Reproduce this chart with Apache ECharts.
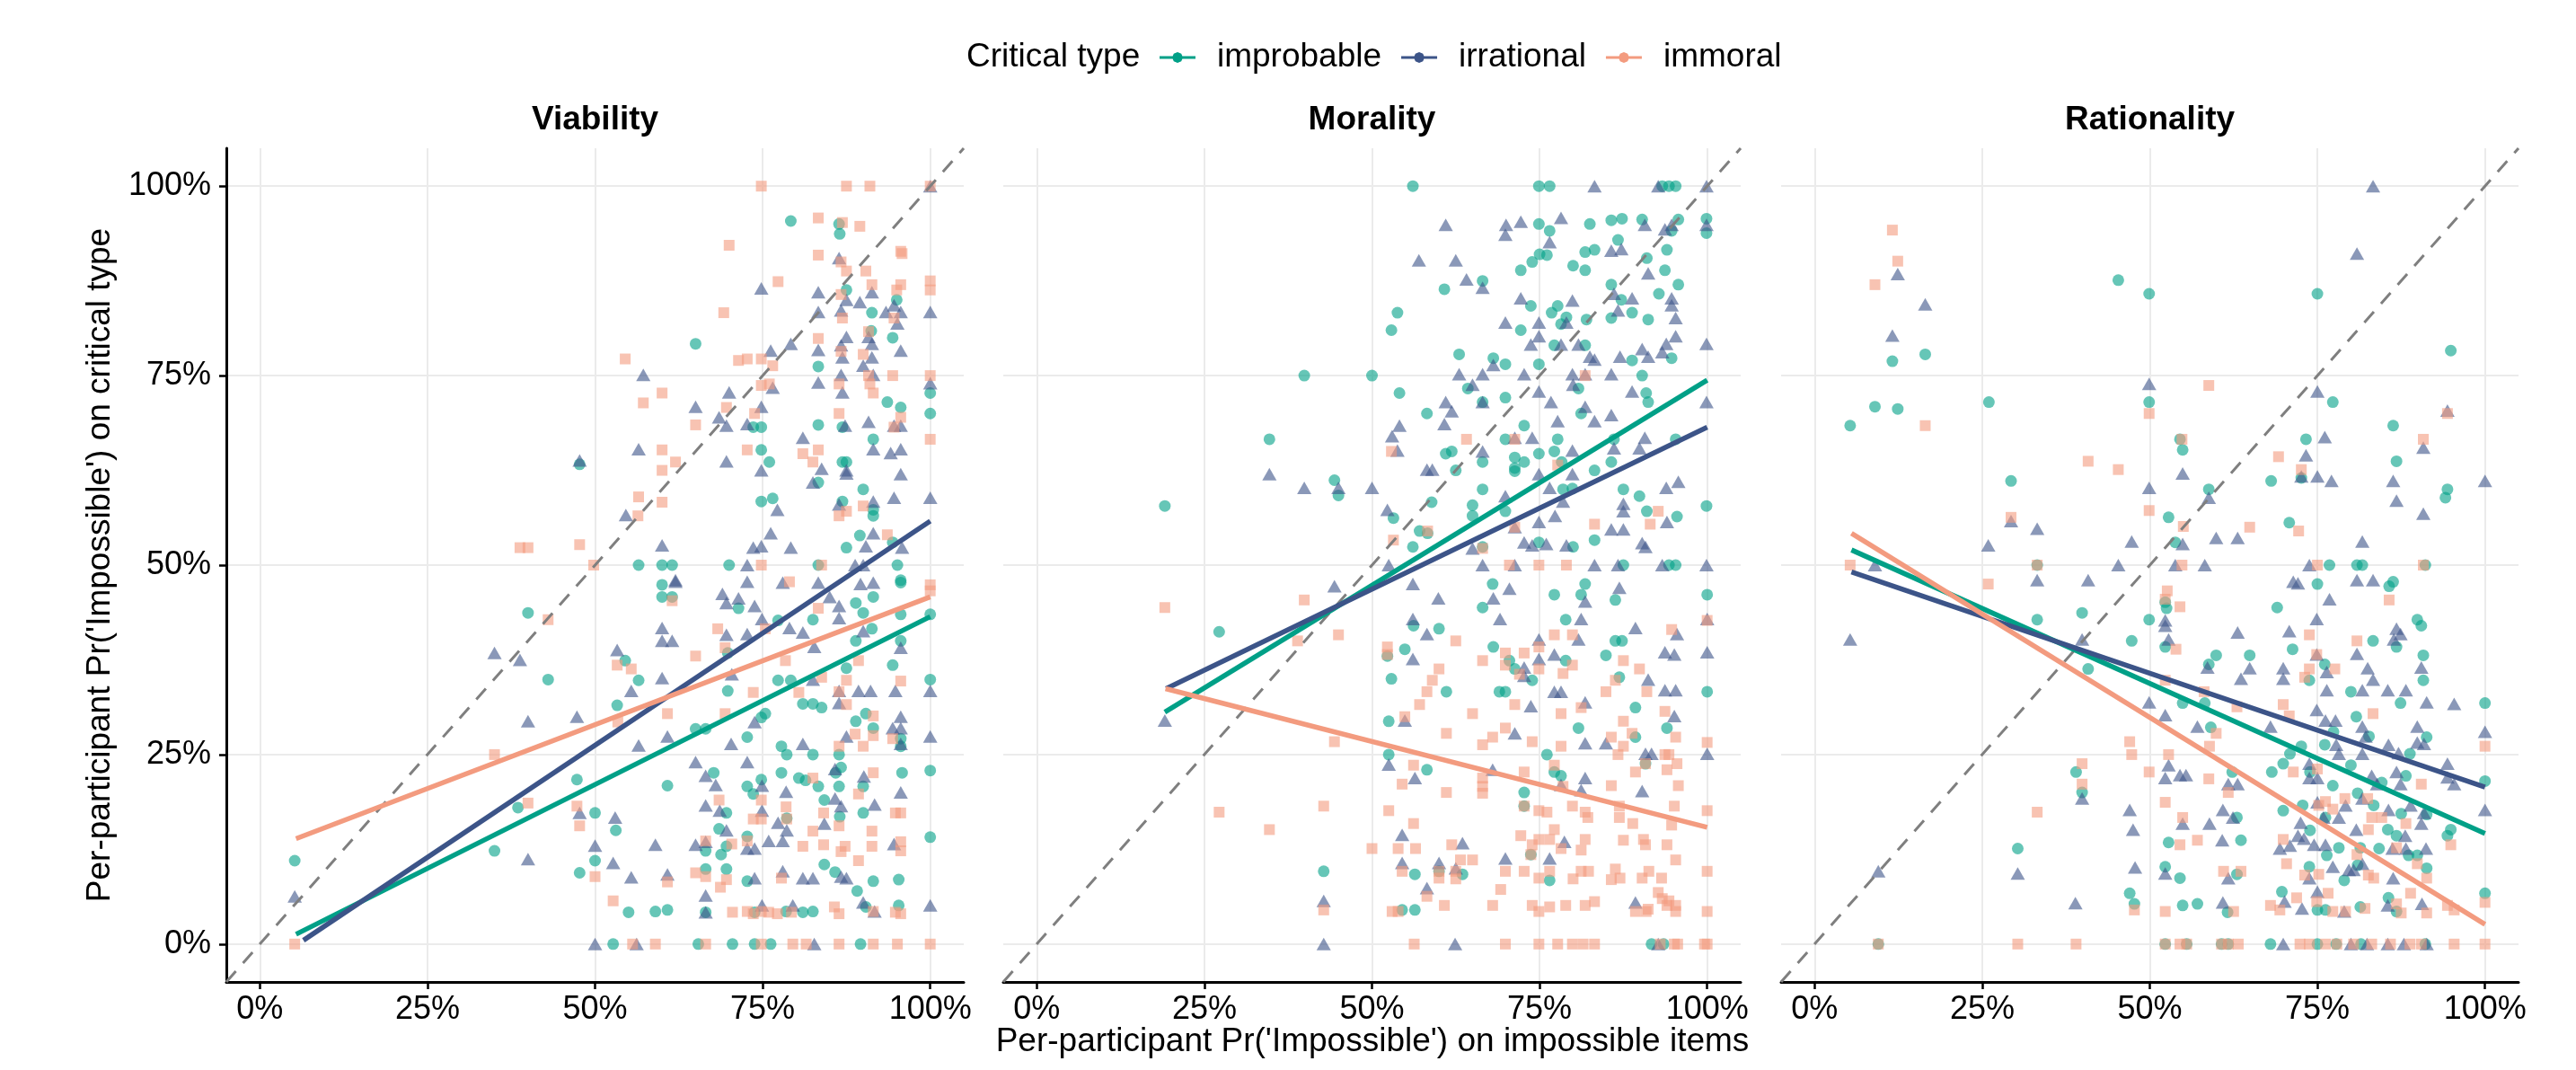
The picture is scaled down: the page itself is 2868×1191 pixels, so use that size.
<!DOCTYPE html>
<html>
<head>
<meta charset="utf-8">
<script src="https://cdn.jsdelivr.net/npm/echarts@6/dist/echarts.min.js"></script>
<style>
  html, body { margin: 0; padding: 0; background: #fff; }
  #chart { width: 2868px; height: 1191px; }
</style>
</head>
<body>
<div id="chart"></div>
<script>
// facets and critical types
var panels = ['Viability', 'Morality', 'Rationality'];
var types = ['improbable', 'irrational', 'immoral'];
var tickValues = [0, 25, 50, 75, 100];

// points, [x %, y %]
var vImprobable = [[79.2,95.4],[86.4,95],[86.5,93.7],[87.5,86.3],[95,85],[91.3,83.3],[91.2,80.9],[94.4,80],[65,79.2],[83.3,76.2],[100,72.7],[93.6,71.5],[95.6,70.8],[100,70],[83.3,68.5],[86.9,68.2],[73.6,68.2],[74.8,68.2],[91.5,66.6],[74.8,65.2],[76,63.6],[86.9,63.6],[87.5,63.6],[83.3,60.9],[90,60],[74.8,58.4],[76.5,58.8],[86.9,58.4],[91.5,57.3],[91.5,56.5],[89.5,53.9],[87.5,52.3],[95.1,50],[47.7,63.3],[56.5,50],[60,50],[61.5,50],[70,50],[83.3,50],[94.4,53],[95.6,48],
  [60,47.4],[95.6,47.7],[60,45.8],[61.5,45.8],[71.4,44.3],[88.9,45],[91.5,45.8],[40,43.7],[95.6,43.5],[100,43.5],[82.5,42.8],[90,43.7],[91.3,41.6],[77.3,42.7],[88.9,40],[95.6,40],[54.5,37.4],[43,34.9],[56.5,34.8],[69.8,38.4],[94.4,36.8],[87.5,36.4],[77.3,34.8],[79.2,34.8],[100,34.9],[69.8,33.4],[53.3,31.5],[81,31.7],[82.5,31.7],[83.8,31.2],[75.4,30.4],[74.8,29.9],[88.9,29.4],[91.5,28.5],[65,28.4],[66.5,28.4],[72.7,27.3],[90.4,30.4],[95.6,27.1],[95.6,26.1],[77.8,26.1],[78.6,25],[82.5,25],[86.4,25],[86.7,23.3],[85.9,22.6],[95.8,22.6],[100,22.9],[67.7,22.6],[77.8,22.6],[80.4,21.9],[81.4,21.6],[74.8,21.7],[47.3,21.7],[60.8,20.9],[83.3,20.8],[72.7,20.8],[73.6,19.8],[86.4,20.8],[90,20.8],[84.2,19],[38.5,18],[50,17.3],[90,17.3],[53.1,15],[68.5,15.2],[69.6,17.3],[86.5,16.8],[78.6,16.6],[100,14.1],[72.7,14.2],[35,12.3],[50,11],[66.5,12.3],[69.6,12.9],[68.8,11.8],[47.7,9.4],[69.6,9.9],[66.5,9.9],[72.7,8.3],[84.2,10.5],[85.8,9.5],[91.5,8.3],[95.3,8.5],[89.1,7],[95.3,5.1],[55,4.2],[59,4.3],[60.8,4.5],[66.5,4.2],[73.8,4.2],[78.5,4.3],[81,4.2],[82.5,4.3],[90.4,4.9],[5.2,11],[52.7,0],[65.4,0],[70.5,0],[73.8,0],[76.2,0],[89.6,0]];
var vIrrational = [[100,100],[86.4,90.5],[74.8,86.5],[83.3,86],[87.5,85],[91.3,86],[89.5,84.7],[94.6,84.3],[83.3,83.4],[86.7,83.6],[93.4,83.4],[95.6,83.4],[100,83.4],[95.1,81.9],[87.5,80.1],[90.8,80.1],[86.7,79],[91.3,79.2],[79.2,79.2],[76.2,78.3],[83.3,78.4],[95.6,78.3],[86.9,77.4],[91.3,77.4],[90,76.3],[86.7,75.1],[91.5,75.1],[83.3,74.1],[100,74],[76.5,73.4],[70,72.8],[86.9,72.8],[57.2,75.1],[65,70.9],[74.8,70.9],[68.5,69.5],[69.6,68.4],[72.7,68.6],[87.3,68.4],[90.8,68.9],[95.6,68.4],[94.6,68.4],[81,66.8],[56.5,65.3],[91.5,65.3],[95.6,65.3],[94.1,64.8],[47.7,63.8],[69.6,63.7],[74.8,62.5],[83.8,62.7],[87.5,62.5],[87.5,62.1],[95.6,62],[82.5,60.9],[94.6,58.9],[100,58.9],[91.5,58.4],[86.4,58],[77.2,57.3],[54.6,56.6],[76.2,54.2],[91.5,54.2],[60,52.6],[73.6,52.3],[74.8,52.5],[79.2,52.3],[90.4,52.5],[95.8,52.3],[88.8,50],[90,50],[72.7,50],[62,48],
  [62,47.8],[72.7,47.8],[78,47.7],[83.3,47.7],[89.6,47.5],[91.5,47.7],[69,46.2],[69.6,45],[71.4,45.6],[73.8,44.6],[85,45.8],[86.4,44.6],[74.9,42.9],[79,41.7],[81,41.1],[86.4,43],[90,41.3],[60,41.7],[60,40],[61.5,40],[69.6,40.8],[72.7,40.9],[82.7,39.2],[35,38.4],[38.8,37.5],[53.3,38.8],[95.6,39.1],[60,35.1],[70.4,35.6],[55.4,33.4],[86.4,33.4],[89.3,33.4],[91.1,33.4],[94.8,33.4],[100,33.4],[82.5,34.9],[86.4,31.8],[40,29.4],[47.3,30],[73.8,29.3],[95.6,30],[94.4,28.5],[95.6,28.5],[60.8,27.4],[56.5,26.2],[70.3,26.4],[81,26.4],[87.5,27.4],[95.6,26.4],[100,27.4],[65,24],[72.7,24],[66.5,22.2],[68,21],[74.9,20.9],[78.5,20.1],[85.8,23.1],[90.1,22.1],[95.6,20],[85.8,19.2],[86.7,18.2],[91.7,18.4],[66.5,18.3],[68.6,17.6],[47.7,17.3],[53,16.7],[74.9,17.6],[69.6,15],[77.3,16],[78.6,15],[84.2,15.9],[78,13.6],[75.9,13.6],[72.7,12.6],[73.8,12.6],[65,13.1],[66.5,13.5],[59,13.1],[50,13],[52.7,10.7],[40,11.2],[60.8,9.2],[55.4,8.8],[73.8,8.7],[78,9.6],[81,8.7],[82.5,8.7],[87.5,8.7],[86.7,8.9],[100,5.1],[94.6,13.2],[90,5.5],[66.5,6.4],[66.5,4.2],[74.9,5.1],[79.5,5.1],[91.7,4.3],[5.2,6.3],[50,0],[56.2,0],[82.7,0]];
var vImmoral = [[74.8,100],[87.5,100],[91,100],[100,100],[83.3,95.8],[86.9,95.2],[89.5,94.7],[70,92.2],[83.3,90.9],[95.6,91.4],[95.8,91.1],[86.7,90],[87.5,88.8],[90.4,88.8],[77.3,87.4],[91.3,87],[95.6,87],[95,86.3],[100,87.5],[100,86.3],[86.7,85.7],[69.2,83.3],[86.9,82.6],[94.6,82.6],[83.3,79.9],[90.8,80.8],[86.7,78.2],[90,77.8],[54.5,77.2],[71.4,77],[72.7,77.2],[74.8,77.2],[76.5,76.3],[90.8,75],[94.4,75],[100,75],[74.8,73.7],[76,73.9],[86.4,73.9],[91,73.9],[91.5,72.7],[60,72.7],[57.2,71.4],[69.6,70.8],[73.8,70],[86.4,70],[65,68.5],[94.6,68.2],[95.6,69.5],[60,65.2],[72.7,65.2],[81,64.7],[83.3,65.2],[62,63.6],[82.5,63.6],[60,62.5],[100,66.6],[56.5,59],[60,58.3],[56.4,56.5],[86.4,56.5],[87.5,57.1],[90,57.8],[38.8,52.3],[40,52.3],[47.7,52.7],[49.8,50],[74.8,50],[83.8,50],[93.6,54],
  [61.5,45.3],[79,47.8],[83.3,44.3],[43,42.8],[68.3,41.6],[75.4,41.6],[69.4,39.1],[65,38],[53.3,36.8],[55.4,36.3],[78.4,37.4],[89.3,37.4],[83.8,35.2],[87.5,34.8],[86.4,33.3],[73.6,33.2],[80.4,33.2],[95.6,34.7],[100,47.4],[100,46.6],[87.5,31.6],[60.8,30.4],[69.4,30.4],[91.5,30.1],[53.4,29.3],[91.5,27.5],[88.8,27.7],[86.4,26.1],[90,26.1],[94.4,27.1],[35,25],[82.5,21.9],[91.5,22.6],[89.3,19.8],[68.5,19],[74.8,19],[78.5,18.1],[40,18.6],[47.3,18.2],[47.7,15.6],[73.6,16.5],[74.8,16.5],[78.6,16.5],[84.1,17.3],[86.4,15.6],[82.5,14.9],[91.3,14.9],[94.8,17.3],[95.6,17.3],[95.6,13.5],[95.6,12.3],[81,12.9],[84.1,13.1],[87.3,12.9],[86.7,12.2],[91.3,12.9],[89.3,11],[70.4,13.2],[72.7,13.6],[66.5,13.6],[65,9.4],[66.5,8.9],[69.6,8.5],[68.7,7.5],[60.8,8.2],[77.8,8.7],[50,8.9],[52.7,5.7],[70.5,4.2],[72.7,4.3],[73.6,4],[74.8,4.3],[75.9,4.2],[77.2,4],[79.3,4.2],[85.7,4.9],[86.4,4],[91.5,4.3],[94.8,4.2],[95.6,4],[5.2,0],[55.6,0],[59,0],[66.5,0],[74.8,0],[79.5,0],[81.5,0],[86.4,0],[91.5,0],[95.1,0],[100,0]];

var mImprobable = [[56.1,100],[74.9,100],[76.5,100],[93.3,100],[94.3,100],[95.3,100],[99.9,95.7],[99.9,93.8],[74.9,95],[76.5,94.1],[82.5,95],[85.7,95.5],[87.3,95.7],[90.3,95.6],[94.7,94.1],[95.7,95.6],[86.7,92.9],[94,91.6],[83.2,91.6],[81.8,91.3],[75,91],[76.1,90.9],[73.9,90],[72.2,88.9],[80,89.5],[81.8,88.9],[91,90.5],[93.7,88.9],[95.7,87],[66.5,87.5],[60.8,86.4],[85.7,87],[92.8,85.8],[87.2,85],[73.7,84.2],[77.7,84.2],[76.8,83.3],[53.8,83.3],[52.9,81],[79,82.7],[82,82.4],[85.7,82.6],[88.8,83.3],[91.2,82.4],[72.2,81],[78.2,81.8],[77.2,79],[81.8,79],[94.7,77.3],[88.8,77],[63,77.8],[68.1,77.3],[69.9,76.5],[74.9,76.5],[39.9,75],[50,75],[90.3,75],[80.8,73.3],[64.3,73.3],[90.9,72.7],[91.2,71.5],[54.1,72.7],[66.5,71.5],[69.9,72.1],[58.2,70],[81.2,70],[72.7,68.4],[34.7,66.6],[69.9,66.6],[77.7,66.6],[86.1,66.6],[95.3,66.6],[61,64.7],[61.9,65],[71.3,64.2],[74.9,64.7],[77.2,65],[66.5,63.6],[72.7,63.6],[71.3,62.8],[71.3,62.4],[62.5,62.5],[83.2,62.5],[85.7,63.6],[78.3,63.6],[44.4,61.2],[45,59.2],[66.5,60],[78.5,60],[79.9,60.1],[87.5,60],[89.9,59.1],[58.9,58.3],[65,57.9],[69.9,57.1],[91,57.1],[99.9,57.8],[95.5,56.4],[19.1,57.8],[53.2,56.2],[65,56.5],[57.1,54.5],[58.3,54.2],[56.1,52.4],[74.9,53],[66.5,52.4],[80,52.4],[83.2,53.3],[87.5,50],[94.3,50],[95.3,50],
  [68,47.5],[81.8,47.5],[77.2,46.1],[81.2,46.1],[86.3,45.4],[100,46.1],[66.5,44.4],[78.9,42.8],[56.2,42],[60,41.6],[27.2,41.2],[54.9,38.9],[68.1,39.2],[52.3,38],[70.5,37.4],[78.9,37.4],[84.9,38.1],[86.3,40],[87.3,40],[52.9,35],[71.3,36.3],[73.9,34.8],[86.9,35.2],[61.1,33.3],[69,33.3],[69.9,33.3],[100,33.3],[89.3,31.2],[52.5,29.4],[80.8,28.5],[94,28.5],[89.3,27.3],[52.5,25],[76.1,25],[58.2,23],[77.2,22.7],[78.2,22.2],[72.7,20],[72.7,18.2],[73.7,11.8],[90.8,23.8],[42.8,9.6],[56.4,9.2],[60,9.6],[63.5,9.2],[76.5,8.4],[54.5,4.5],[56.4,4.5],[91.7,0],[93.5,0]];
var mIrrational = [[83.2,100],[92.7,100],[99.9,100],[78.2,95.8],[61,94.9],[70,94.9],[72.2,95.3],[69.9,93.6],[76.5,92.6],[90.7,94.9],[93.7,94.3],[94.7,94.9],[99.9,94.9],[57,90.2],[62.5,90.2],[85.7,91.5],[87.2,91.7],[91.2,88.5],[64.1,87.7],[66.5,86.6],[72.2,85.2],[79.9,84.9],[86.1,85.8],[88.8,85.2],[94.7,85.2],[94.7,84.3],[86.7,83.6],[69.9,82],[74.9,82],[79,82],[95.3,82.6],[74.9,80.2],[73.7,79.1],[78.2,79.1],[80.8,79.1],[95.3,80.2],[93.9,79.2],[99.9,79.2],[90.3,78.5],[91.2,77.5],[93.3,78.1],[82.5,77.5],[83.2,77.1],[87,77.5],[68.1,76.4],[63,75.2],[66.5,75.2],[72.7,75.2],[79.9,75.2],[81.8,75.2],[85.7,75.2],[65,73.8],[80,73.8],[74.9,72.9],[88.8,72.9],[61,71.5],[66.5,71.5],[76.7,71.5],[99.9,71.5],[61.9,70.3],[81.8,70.9],[85.7,69.8],[54.1,68.4],[60.8,68.6],[77.7,69],[83.2,69],[53,67],[71.3,66.8],[73.9,66.8],[90.7,66.8],[53.8,65.1],[66.5,65],[79.9,65.1],[86.1,65.4],[89.9,65.4],[58.2,62.6],[59,62.6],[74.9,62],[79.9,62],[95.7,61],[93.9,60.2],[34.7,62],[39.9,60.2],[45,60.2],[50,60.2],[76.5,60.2],[78.5,58.4],[69.9,59.1],[87.5,58.1],[87.5,57.1],[52.3,57.3],[77.3,56.5],[74.9,55.7],[85.7,54.7],[87.5,54.7],[94,55.7],[71.3,55],[72.7,53],[73.9,52.6],[76,52.8],[79,52.6],[90.3,52.9],[90.8,52.4],[65,52.2],[66.5,50],[71.3,50],[83.2,50],[86.7,50],[93.3,50],[99.9,50],[52.5,50],
  [44.4,47.2],[56.1,47.5],[59.9,45.6],[70.5,46.9],[68.1,45.6],[81.8,45.2],[86.9,47],[69.1,42.9],[81.2,42.9],[56.1,42.9],[58.2,40.9],[74.9,40.2],[80.8,40.2],[89.3,41.7],[95.5,40.9],[100,42.9],[56.1,37.6],[74.9,37.6],[77.2,38.2],[93.7,38.5],[95.1,38.2],[100,38.5],[72.7,36.5],[72.7,35.4],[91.2,34.9],[77.2,33.3],[78.2,33.3],[93.7,33.5],[95.3,33.5],[81.8,31.9],[73.7,31.4],[95.1,30.1],[54.9,29.5],[71.3,27.8],[81.8,26.5],[84.9,26.5],[90.8,25.1],[91.7,25.1],[100,25.1],[52.5,23.7],[56.4,21.9],[68,23],[81.8,21.9],[78.2,21],[81.2,20.3],[90.3,20.2],[54.5,14.4],[63.5,13.3],[78.7,13.5],[69.9,11.3],[76.5,11.3],[54.5,10.7],[60,10.7],[62.5,10],[58.2,7.4],[42.8,5.7],[89.3,5.5],[42.8,0],[62.4,0],[92.7,0],[19.1,29.5]];
var mImmoral = [[64.1,66.6],[71.3,66.6],[52.9,65],[77.7,63.2],[81.8,75],[53.2,53.3],[58.3,54.5],[71.3,55],[83.2,55.4],[91.5,55.4],[92.7,57.1],[66.5,52.2],[70.5,50],[74.9,50],[79,50],
  [19.1,44.4],[39.9,45.4],[45,40.8],[38.9,40],[52.3,39.2],[52.3,38.2],[62.5,40],[69.9,38.4],[72.7,38.4],[74.9,39.2],[77.2,40.8],[79.9,40.8],[66.5,37.4],[69.9,36.8],[74.9,36.3],[79.9,36.8],[87.5,37.4],[89.9,36.3],[60,36.3],[59,34.8],[78.5,35.7],[72,35.6],[86.3,34.8],[94.7,41.5],[100,42.7],[58.2,33.3],[84.9,33.3],[91,33.3],[57.1,31.6],[71.3,31.6],[65,30.4],[78.2,30.4],[81.2,31.2],[93.7,30.7],[54.9,30],[87.5,29.4],[61.1,27.8],[69.9,28.5],[68,27.3],[66.5,26.3],[73.9,26.7],[78.2,26.1],[85.7,27.3],[87.5,26.1],[88.8,27.8],[95.3,27.3],[100,26.6],[44.4,26.7],[86.7,25],[93.7,25],[94.3,25],[95.5,23.8],[94,23],[56.2,23.6],[72.7,22.7],[77.2,23.6],[89.3,22.7],[66.5,21.9],[66.5,20.8],[66.5,19.9],[54.5,21.1],[61.1,20],[78.5,20.8],[85.7,20.9],[95.7,20.9],[42.8,18.2],[27.2,17.4],[52.5,17.6],[74.9,17.6],[76.1,17.4],[79.9,18.2],[81.8,17.4],[82.2,16.7],[86.9,18.2],[86.9,16.7],[95.1,18.2],[100,17.6],[34.7,15.1],[56.2,15.9],[88.9,15.9],[94.7,15.7],[77.2,15.1],[72.2,14.3],[74.9,13.8],[76.5,13.8],[81.8,13.8],[87.5,13.7],[90.5,13.8],[90.8,13.1],[94,13.1],[61.9,13.1],[50,12.6],[53.9,12.6],[56.5,12.6],[73.9,13.1],[78.2,12.6],[81.2,12.4],[63.2,11.1],[65,11.1],[95.3,11.1],[54.5,9.6],[60,9.6],[62.5,9.6],[69.9,9.6],[72.7,9.6],[76.5,9.6],[81.2,9.6],[82.3,9.6],[86.3,9.9],[91.3,9.6],[100,9.6],[60,8.7],[62.5,8.6],[74.9,8.7],[80,8.6],[85.7,8.5],[87,8.7],[90.3,8.7],[93.2,8.7],[69.2,7.2],[58.2,6.3],[92.7,6.8],[93.3,6],[94.3,5.7],[95.3,5.1],[42.8,4.5],[53,4.3],[53.9,4.3],[60.8,5.1],[68,5.1],[73.9,5.1],[74.9,4.3],[76.5,4.9],[78.9,5.1],[81.8,5.1],[83.2,5.6],[89.3,4.3],[91.2,4.6],[94,5.1],[95.3,4.3],[100,4.3],[90.9,4.3],[56.3,0],[69.9,0],[74.9,0],[77.7,0],[79.9,0],[81.5,0],[83.2,0],[93,0],[95.1,0],[95.6,0],[100,0],[99.6,0],[72.7,18.2],[73.7,11.8],[90.8,23.8]];

var rImprobable = [[45.3,87.6],[49.9,85.8],[75,85.8],[94.9,78.3],[11.6,76.9],[16.5,77.8],[5.3,68.4],[9,70.9],[12.4,70.6],[26,71.5],[49.9,71.5],[77.3,71.5],[86.3,68.4],[73.3,66.6],[54.5,66.6],[54.9,65.2],[86.8,63.7],[29.3,61.1],[68.1,61.1],[72.6,61.5],[58.8,60],[94.4,60],[94.1,58.9],[52.8,56.3],[70.8,55.6],[53.8,53],[76.8,50],[80.9,50],[81.7,50],[91.1,50],[33.2,50],
  [75,47.5],[85.7,47.2],[86.3,47.8],[39.9,43.7],[33.2,42.8],[49.9,42.8],[52.3,45.1],[52.5,44.3],[69,44.4],[89.9,42.8],[90.5,42],[47.3,40],[52.3,39.2],[83.3,40],[86.8,39.2],[59.9,38.1],[64.9,38.1],[71.3,38.9],[90.8,38.1],[58.8,36.9],[76.1,36.9],[40.8,36.3],[73.8,34.8],[90.8,34.8],[80,33.3],[54.9,31.8],[58.2,31.8],[87.4,31.8],[100,31.8],[59.1,28.6],[80.8,30],[77.4,28],[82.7,27.4],[91.3,27.3],[70.9,25.1],[72.6,26.1],[76.1,26.3],[88.8,25.1],[39,22.7],[62.3,22.7],[68.2,22.7],[69.9,23.8],[73.9,22.7],[80,23.6],[77.3,20.9],[88.2,22.2],[100,21.5],[84.6,21.3],[39.9,20],[69.9,17.6],[72.8,18.3],[76.2,16.7],[81,19.9],[83.4,18.3],[87.5,17.2],[91.3,17.1],[63,16.7],[73.9,15],[85.5,15.1],[86.8,14.3],[94.9,15.1],[94.4,14.3],[81.4,12.7],[88.6,11.7],[89.9,11.7],[76.4,11.7],[78.2,12.7],[84.2,12.6],[79,8.4],[52.8,13.4],[63.6,13.7],[30.3,12.6],[52.3,10.2],[54.5,8.7],[73.8,10.2],[81,10.4],[91.3,10],[63,9.2],[47,6.7],[47.7,5.3],[54.9,5.1],[57.1,5.3],[61.6,4.2],[69.7,6.9],[75,4.5],[76.2,4.5],[81.4,4.9],[86.8,4.3],[100,6.7],[85.6,6.1],[68,0],[75,0],[77.8,0],[81.5,0],[91.1,0],[9.5,0],[52.3,0],[55.5,0],[60.7,0],[61.7,0]];
var rIrrational = [[83.3,100],[80.9,91.1],[12.4,88.4],[16.5,84.4],[11.6,80.3],[49.9,73.9],[75,72.9],[76.1,66.9],[73.3,64.5],[90.8,65.5],[94.4,70.4],[54.9,62.1],[72.6,61.7],[75,61.7],[77.1,61.1],[86.3,61.1],[100,61.1],[49.9,60.2],[58.8,58.9],[86.8,58.5],[90.8,56.8],[29.3,55.8],[33.2,54.8],[25.9,52.6],[47.3,53.1],[54.9,52.8],[59.9,53.6],[63.1,53.6],[81.7,53.1],[9,50],[45.3,50],[53.8,50],[58.2,50],[73.8,50],
  [5.3,40.2],[33.2,48],[40.8,48],[71.4,47.8],[72.1,47.6],[80.9,48],[83.3,48],[76.8,45.5],[74.9,42.9],[52.3,42.7],[52.3,42],[52.8,40.2],[63.1,41.1],[70.8,41.3],[86.8,41.6],[87.4,40.9],[86.4,40.2],[39.9,40.2],[80.9,38.3],[74.9,38.2],[64.9,36.4],[58.6,36.5],[69.9,36.4],[82.5,36.4],[90.5,36.5],[63.6,35],[69.9,35],[83.3,34.9],[76.4,35.9],[76.4,33.5],[81.7,33.5],[85.5,33.5],[88.2,33.5],[91.3,31.9],[95.4,31.7],[49.9,31.9],[74.9,30.9],[52.3,30.2],[57.1,28.7],[68,28.7],[76.2,29.5],[77.7,29.5],[81.7,28.7],[89.9,28.7],[100,28],[82.2,27.4],[77.8,26.3],[85.6,26.3],[89.9,26.6],[90.9,26.4],[78.2,25.1],[81.7,25.1],[87.1,25.2],[52.8,23.6],[52.3,21.9],[54.5,22.3],[55.4,22.3],[61.7,21.1],[63.1,21.1],[73.8,23.8],[73.8,21.9],[75,21.9],[86.8,22.7],[94.4,23.8],[95.4,21.1],[94.4,22],[83.1,22.2],[83.9,21.1],[87.4,21.1],[39.9,19.2],[47,17.7],[60.9,17.7],[75,18.7],[79.2,18.3],[81.7,19.2],[85.6,17.7],[88.9,18.3],[90.9,17.3],[100,17.7],[75.9,16.7],[78.2,16.7],[72.5,16],[47.5,15.1],[54.9,15.9],[58.9,15.9],[62.4,16.7],[80.8,15.1],[88.1,14.3],[90.5,15.9],[72.1,14.3],[73,13.9],[69.4,12.6],[70.9,13],[74.5,13.1],[76.2,13.1],[86.2,12.6],[88.2,12.6],[91.2,12.6],[60.8,13.7],[9.5,9.6],[30.3,9.3],[47.8,10.1],[52.3,9.3],[61.7,8.7],[73.8,8.7],[77.3,10.2],[79.7,9.8],[81.7,10.6],[86.3,8.7],[75,6.9],[80.4,9.8],[38.9,5.4],[60.9,5.5],[70.1,5.6],[72.7,4.7],[85.5,5.1],[90.6,5.3],[79,4.3],[69.9,0],[80,0],[82.4,0],[85.5,0],[87.9,0],[91.3,0]];
var rImmoral = [[11.6,94.2],[12.4,90.1],[9,87],[16.5,68.4],[58.8,73.7],[49.9,70],[54.8,66.6],[90.8,66.6],[94.4,70],[69.2,64.3],[72.6,62.6],[72.2,54.5],[64.9,55],[55,55.1],[49.9,57.2],[40.8,63.7],[45.3,62.6],[29.3,56.3],[5.3,50],[33.2,50],[75,50],[90.8,50],[54.8,50],
  [25.9,47.5],[52.6,46.6],[52.3,45.5],[54.5,44.5],[53.9,38.9],[73.8,40.8],[80.9,40],[74.9,38.2],[85.7,45.4],[77.6,36.3],[73.8,36.3],[73.1,35.2],[52.3,34.8],[58.1,33.3],[63,31.3],[69.9,31.6],[70.8,30.1],[83.3,30.4],[59.9,27.8],[58.9,26.1],[47,26.7],[47.3,25],[52.8,25],[39.9,23.8],[49.9,22.7],[58.8,21.8],[39.9,21.1],[71.4,22.7],[75,23.1],[90.5,21.1],[100,26.1],[61.7,20],[52.3,18.7],[33.2,17.4],[75.2,18.3],[76.2,18.8],[77.3,17.8],[79.1,19.2],[82.5,19.2],[83.1,16.7],[84.6,16.7],[88.2,15.9],[54.9,16.7],[82.6,15.1],[57.1,13.7],[54.5,13.1],[69.9,13.8],[86.8,12.7],[94.9,13.1],[80.9,11.8],[70.4,10.6],[89.9,10.6],[61,9.6],[63.6,9.6],[73.1,9.1],[75.2,9.2],[82.6,9.1],[83.4,8.7],[91.3,8.7],[76.6,6.7],[88.9,6.7],[71.9,6.1],[74.9,5.6],[68,5.1],[69.4,4.5],[77.3,4.3],[79.2,4.3],[82.1,4.7],[86.8,5.3],[87.5,4.1],[91.3,4.1],[94.4,5.1],[95.4,4.5],[100,5.5],[47.7,4.5],[52.3,4.3],[62.5,4.3],[9.5,0],[30.3,0],[39,0],[52.3,0],[54.5,0],[55.5,0],[60.7,0],[61.7,0],[63.2,0],[72.4,0],[73.8,0],[76.2,0],[77.9,0],[80.4,0],[83.1,0],[85.9,0],[88.8,0],[90.5,0],[95.4,0],[100,0]];

// fitted lines, [[x0,y0],[x1,y1]]
var vFitImprobable = [[5.4,1.3],[100,43.2]];
var vFitIrrational = [[6.5,0.5],[100,55.8]];
var vFitImmoral = [[5.4,13.9],[100,45.8]];
var mFitImprobable = [[19.1,30.6],[100,74.4]];
var mFitIrrational = [[19.3,33.7],[100,68.2]];
var mFitImmoral = [[19.2,33.7],[100,15.4]];
var rFitImprobable = [[5.5,52.0],[100,14.6]];
var rFitIrrational = [[5.5,49.1],[100,20.7]];
var rFitImmoral = [[5.5,54.2],[100,2.6]];

var points = [[vImprobable, vIrrational, vImmoral], [mImprobable, mIrrational, mImmoral], [rImprobable, rIrrational, rImmoral]];
var fits = [[vFitImprobable, vFitIrrational, vFitImmoral], [mFitImprobable, mFitIrrational, mFitImmoral], [rFitImprobable, rFitIrrational, rFitImmoral]];

var colors = ['#00A087', '#3C5488', '#F39B7F'];
var symbols = ['circle', 'triangle', 'rect'];
var symbolSizes = [13, [16, 14], 12];
var FONT = '"Liberation Sans", Arial, Helvetica, sans-serif';

var gridLefts = [252, 1117, 1983];
var gridW = 821, gridTop = 165, gridH = 928;

var grids = [], xAxes = [], yAxes = [], series = [];
for (var p = 0; p < 3; p++) {
  grids.push({ left: gridLefts[p], top: gridTop, width: gridW, height: gridH, containLabel: false, outerBoundsMode: 'none' });
  xAxes.push({
    gridIndex: p, type: 'value', min: -5, max: 105,
    axisLine: { show: true, onZero: false, lineStyle: { color: '#000', width: 3 } },
    axisTick: { show: true, length: 8, customValues: tickValues, lineStyle: { color: '#000', width: 2.5 } },
    axisLabel: { customValues: tickValues, formatter: '{value}%', fontSize: 36, color: '#000', fontFamily: FONT, margin: 13 },
    splitLine: { show: true, lineStyle: { color: '#ebebeb', width: 2 } }
  });
  yAxes.push({
    gridIndex: p, type: 'value', min: -5, max: 105,
    axisLine: { show: p === 0, onZero: false, lineStyle: { color: '#000', width: 3 } },
    axisTick: { show: p === 0, length: 8, customValues: tickValues, lineStyle: { color: '#000', width: 2.5 } },
    axisLabel: { show: p === 0, customValues: tickValues, formatter: '{value}%', fontSize: 36, color: '#000', fontFamily: FONT, margin: 17 },
    splitLine: { show: true, lineStyle: { color: '#ebebeb', width: 2 } }
  });
  for (var t = 0; t < 3; t++) {
    series.push({
      name: types[t], type: 'scatter', xAxisIndex: p, yAxisIndex: p,
      symbol: symbols[t], symbolSize: symbolSizes[t],
      itemStyle: { color: colors[t], opacity: 0.6 },
      data: points[p][t], z: 2, silent: true
    });
  }
  series.push({
    name: 'identity', type: 'line', xAxisIndex: p, yAxisIndex: p,
    data: [[-5, -5], [105, 105]], symbol: 'none', silent: true,
    lineStyle: { color: '#7f7f7f', width: 3, type: [16, 12] }, z: 3
  });
  for (var t2 = 0; t2 < 3; t2++) {
    series.push({
      name: types[t2], type: 'line', xAxisIndex: p, yAxisIndex: p,
      data: fits[p][t2], symbol: 'none', silent: true,
      lineStyle: { color: colors[t2], width: 5.5 }, z: 4
    });
  }
}

var keyIcon = 'path://M0,9.5H40V12.5H0Z M14,11 L15.8,6.8 L20,5 L24.2,6.8 L26,11 L24.2,15.2 L20,17 L15.8,15.2 Z';

var graphics = [
  { type: 'text', x: 1076, y: 64, style: { text: 'Critical type', font: '37px ' + FONT, fill: '#000', align: 'left', verticalAlign: 'middle' } },
  { type: 'text', x: 1528, y: 1160, style: { text: "Per-participant Pr('Impossible') on impossible items", font: '37px ' + FONT, fill: '#000', align: 'center', verticalAlign: 'middle' } },
  { type: 'text', x: 112, y: 629, rotation: Math.PI / 2, style: { text: "Per-participant Pr('Impossible') on critical type", font: '37px ' + FONT, fill: '#000', align: 'center', verticalAlign: 'middle' } }
];
for (var q = 0; q < 3; q++) {
  graphics.push({ type: 'text', x: gridLefts[q] + gridW / 2, y: 134, style: { text: panels[q], font: 'bold 37px ' + FONT, fill: '#000', align: 'center', verticalAlign: 'middle' } });
}

var chart = echarts.init(document.getElementById('chart'), null, { renderer: 'canvas' });
chart.setOption({
  animation: false,
  backgroundColor: '#fff',
  grid: grids,
  xAxis: xAxes,
  yAxis: yAxes,
  legend: {
    left: 1291, top: 44, padding: 0, itemGap: 22, itemWidth: 40, itemHeight: 12,
    selectedMode: false,
    data: types.map(function (n, i) {
      return { name: n, icon: keyIcon, itemStyle: { color: colors[i], opacity: 1 } };
    }),
    textStyle: { fontSize: 37, color: '#000', fontFamily: FONT, lineHeight: 40, padding: [0, 0, 0, 19] }
  },
  graphic: graphics,
  series: series
});
</script>
</body>
</html>
